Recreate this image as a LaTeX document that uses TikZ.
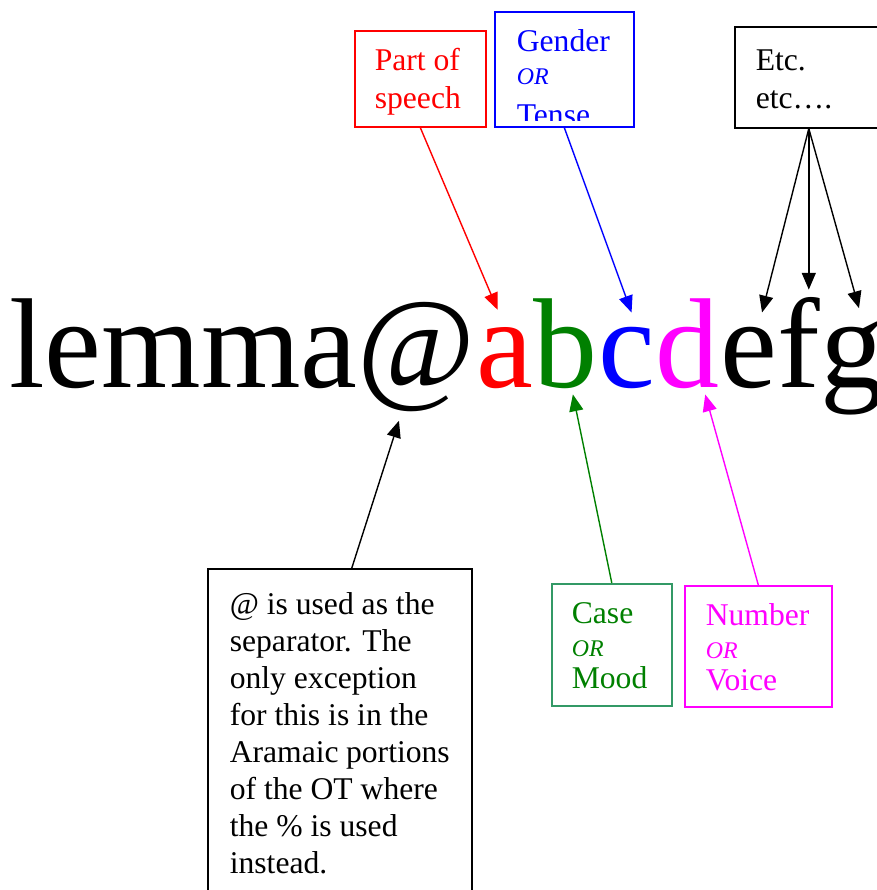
\documentclass[tikz,border=0pt]{standalone}
\usepackage{fontspec}
\setmainfont{Liberation Serif}
\usepackage{trimclip}
\usetikzlibrary{arrows.meta}
\definecolor{seagreen}{RGB}{51,153,102}
\definecolor{wordgreen}{RGB}{0,128,0}
\definecolor{wordpink}{RGB}{255,0,255}
\newcommand\orword{{\fontsize{17}{23.1}\selectfont\itshape OR}}

\begin{document}
\begin{tikzpicture}[x=0.25mm, y=-0.25mm,
  word/.style={inner sep=0pt, anchor=base west, font=\fontsize{91}{100}\selectfont},
  box/.style={draw, line width=0.4mm, anchor=north west, inner ysep=0pt, align=flush left},
  wide/.style={font=\fontsize{22.5}{26.7}\selectfont},
  tight/.style={font=\fontsize{22.5}{23.1}\selectfont},
  arr/.style={-{Triangle[length=4.2mm,width=3.5mm]}, line width=0.35mm}]
\useasboundingbox (0,0) rectangle (877,890);

% the tag, one node per letter
\node[word] (lem) at (9,387) {lemma};
\node[word] (at) at (lem.base east) {@};
\node[word, text=red] (la) at (at.base east) {a};
\node[word, text=wordgreen] (lb) at (la.base east) {b};
\node[word, text=blue] (lc) at (lb.base east) {c};
\node[word, text=wordpink] (ld) at (lc.base east) {d};
\node[word] (le) at (ld.base east) {e};
\node[word] (lf) at (le.base east) {f};
\node[word] (lg) at (lf.base east) {g};

% boxes above
\node[box, wide, draw=red, text=red, inner xsep=5mm, text width=22.75mm,
  text height=10mm, text depth=14mm] (pos) at (354,30) {Part of\\speech};
\node[box, tight, draw=blue, text=blue, inner xsep=5.5mm, text width=23.75mm,
  text height=10mm, text depth=18.75mm] (gen) at (494,11)
  {Gender\\\orword\\[2.8pt]\clipbox{0pt 3.6pt 0pt 0pt}{Tense}};
\node[box, wide, inner xsep=5.25mm, text width=26.5mm,
  text height=11mm, text depth=14.25mm] (etc) at (734,26) {Etc.\\etc….};

% boxes below
\node[box, font=\fontsize{22.5}{26.3}\selectfont, inner xsep=5.5mm, text width=55mm,
  text height=11.5mm, text depth=100mm] (sep) at (207,568)
  {@ is used as the\\separator.  The\\only exception\\for this is in the\\Aramaic~portions\\of the OT where\\the \% is used\\instead.};
\node[box, tight, draw=seagreen, text=wordgreen, inner xsep=5mm, text width=20mm,
  text height=10mm, text depth=20.5mm] (case) at (551,583) {Case\\\orword\\Mood};
\node[box, tight, draw=wordpink, text=wordpink, inner xsep=5.25mm, text width=26.25mm,
  text height=10mm, text depth=20.25mm] (num) at (684,585) {Number\\\orword\\Voice};

% arrows
\draw[arr, red, shorten >=4.6mm] (pos.south) -- (la.north);
\draw[arr, blue, shorten >=3.7mm] (gen.south) -- ([shift={(10,0)}]lc.north);
\draw[arr, shorten >=3.6mm] (etc.south) -- ([shift={(10,0)}]le.north);
\draw[arr, shorten >=1.75mm] (etc.south) -- (etc.south |- lf.north);
\draw[arr, shorten >=3.35mm] (etc.south) -- ([shift={(10,0)}]lg.north);
\draw[arr, shorten >=2.4mm] ([shift={(12,0)}]sep.north) -- ([shift={(-15,0)}]at.south);
\draw[arr, wordgreen, shorten >=1.5mm] (case.north) -- ([shift={(6,0)}]lb.south);
\draw[arr, wordpink, shorten >=1.55mm] (num.north) -- ([shift={(16,0)}]ld.south);
\end{tikzpicture}
\end{document}
